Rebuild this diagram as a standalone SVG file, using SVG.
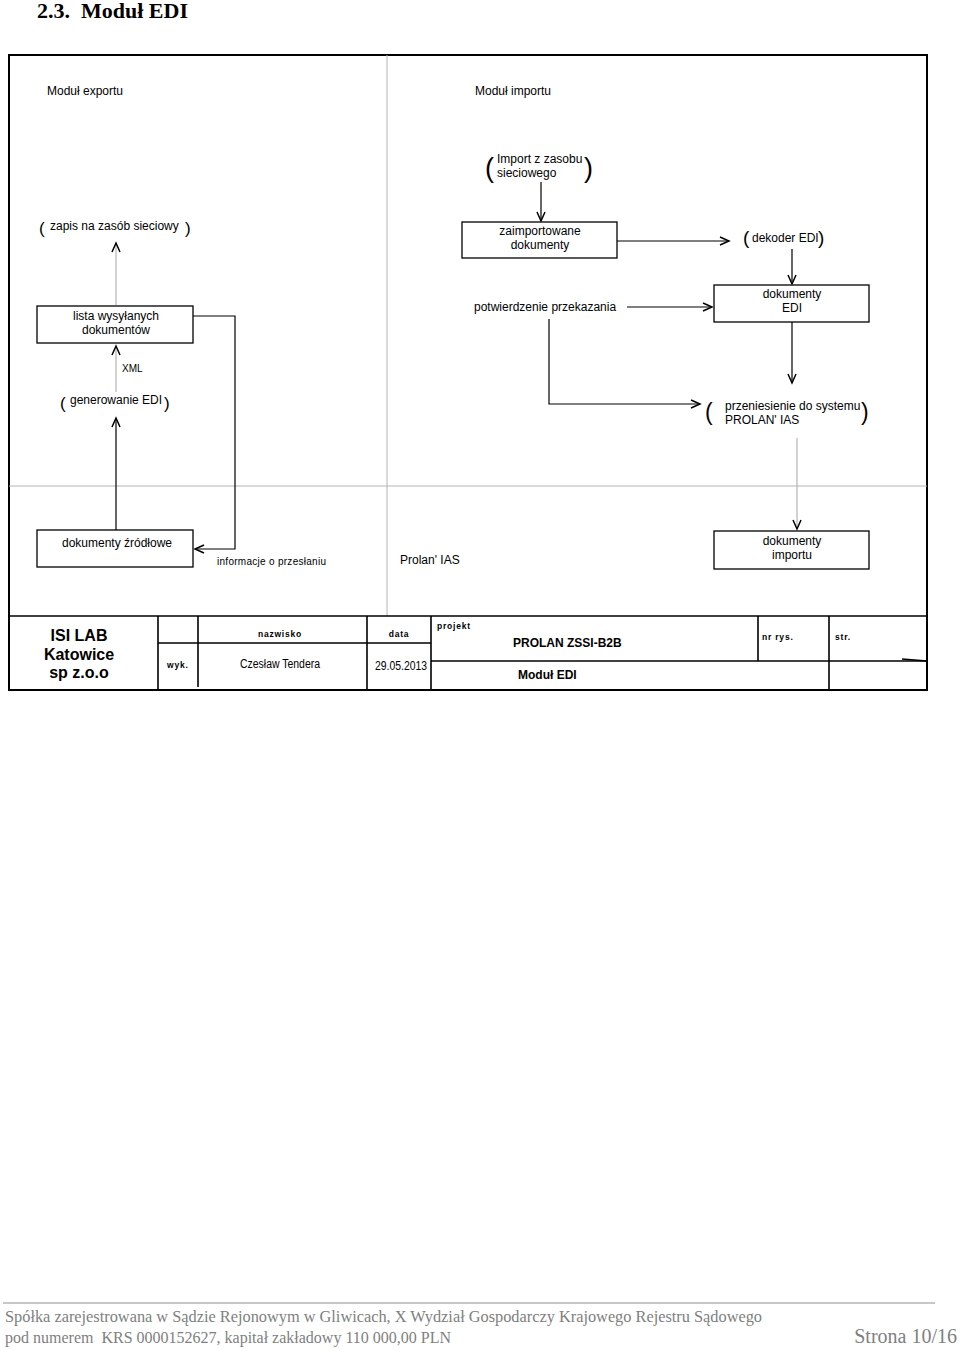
<svg xmlns="http://www.w3.org/2000/svg" width="960" height="1351" viewBox="0 0 960 1351">
<style>
.t{font-family:"Liberation Sans",Arial,sans-serif;font-size:12px;fill:#000}
.c{text-anchor:middle}
.b{font-weight:bold}
.s{font-size:8.5px;font-weight:bold;letter-spacing:0.8px}
.p{font-family:"Liberation Sans",Arial,sans-serif;fill:#000}
.box{fill:#fff;stroke:#000;stroke-width:1.3}
.ln{fill:none;stroke:#000;stroke-width:1.2}
.gl{fill:none;stroke:#b4b4b4;stroke-width:1.2}
.tb{fill:none;stroke:#000;stroke-width:1.6}
.ft{font-family:"Liberation Serif","Times New Roman",serif;fill:#808080}
</style>
<defs>
<marker id="ar" markerWidth="12" markerHeight="10" refX="10" refY="5" orient="auto" markerUnits="userSpaceOnUse">
<path d="M1,1 L10,5 L1,9" fill="none" stroke="#000" stroke-width="1.5"/>
</marker>
</defs>
<rect width="960" height="1351" fill="#fff"/>
<text x="37" y="18" style="font-family:'Liberation Serif','Times New Roman',serif;font-size:22px;font-weight:bold" xml:space="preserve">2.3.  Moduł EDI</text>

<g id="frame">
<rect x="9" y="55" width="918" height="635" fill="none" stroke="#000" stroke-width="2"/>
<line x1="387" y1="55" x2="387" y2="616" stroke="#b4b4b4" stroke-width="1"/>
<line x1="9" y1="486" x2="927" y2="486" stroke="#b4b4b4" stroke-width="1"/>
<text class="t" x="47" y="95">Moduł exportu</text>
<text class="t" x="475" y="95">Moduł importu</text>
<text class="t" x="400" y="564">Prolan' IAS</text>
</g>

<g id="connectors">
<line class="ln" x1="541" y1="182" x2="541" y2="221" marker-end="url(#ar)"/>
<line class="ln" x1="617" y1="241" x2="729" y2="241" marker-end="url(#ar)"/>
<line class="ln" x1="792" y1="249" x2="792" y2="284" marker-end="url(#ar)"/>
<line class="ln" x1="627" y1="307" x2="712" y2="307" marker-end="url(#ar)"/>
<polyline class="ln" points="549,319 549,404 700,404" marker-end="url(#ar)"/>
<line class="ln" x1="792" y1="322" x2="792" y2="383" marker-end="url(#ar)"/>
<line class="gl" x1="797" y1="438" x2="797" y2="529" marker-end="url(#ar)"/>
<line class="gl" x1="116" y1="305" x2="116" y2="243" marker-end="url(#ar)"/>
<line class="gl" x1="116" y1="392" x2="116" y2="346" marker-end="url(#ar)"/>
<line class="ln" x1="116" y1="530" x2="116" y2="418" marker-end="url(#ar)"/>
<polyline class="ln" points="193,316 235,316 235,549 195,549" marker-end="url(#ar)"/>
<text class="t" x="122" y="372" style="font-size:10px">XML</text>
<text class="t" x="217" y="565" style="font-size:10px" textLength="109" lengthAdjust="spacing">informacje o przesłaniu</text>
</g>

<g id="import-src">
<text class="p" x="485" y="176.5" style="font-size:27px">(</text>
<text class="p" x="584" y="176.5" style="font-size:27px">)</text>
<text class="t" x="497" y="163">Import z zasobu</text>
<text class="t" x="497" y="177">sieciowego</text>
</g>

<g id="zaimportowane">
<rect class="box" x="462" y="222" width="155" height="36"/>
<text class="t c" x="540" y="235">zaimportowane</text>
<text class="t c" x="540" y="249">dokumenty</text>
</g>

<g id="dekoder">
<text class="p" x="743" y="244" style="font-size:19px">(</text>
<text class="t" x="752" y="242">dekoder EDI</text>
<text class="p" x="818" y="244" style="font-size:19px">)</text>
</g>

<g id="dok-edi">
<rect class="box" x="714" y="285" width="155" height="37"/>
<text class="t c" x="792" y="298">dokumenty</text>
<text class="t c" x="792" y="312">EDI</text>
</g>

<g id="potwierdzenie">
<text class="t" x="474" y="311">potwierdzenie przekazania</text>
</g>

<g id="przeniesienie">
<text class="p" x="705" y="420" style="font-size:23px">(</text>
<text class="t" x="725" y="410">przeniesienie do systemu</text>
<text class="t" x="725" y="424">PROLAN' IAS</text>
<text class="p" x="861" y="420" style="font-size:23px">)</text>
</g>

<g id="dok-importu">
<rect class="box" x="714" y="531" width="155" height="38"/>
<text class="t c" x="792" y="545">dokumenty</text>
<text class="t c" x="792" y="559">importu</text>
</g>

<g id="zapis">
<text class="p" x="39" y="234" style="font-size:17px">(</text>
<text class="t" x="50" y="230">zapis na zasób sieciowy</text>
<text class="p" x="185" y="234" style="font-size:17px">)</text>
</g>

<g id="lista">
<rect class="box" x="37" y="306" width="156" height="37"/>
<text class="t c" x="116" y="320">lista wysyłanych</text>
<text class="t c" x="116" y="334">dokumentów</text>
</g>

<g id="generowanie">
<text class="p" x="60" y="409" style="font-size:17px">(</text>
<text class="t" x="70" y="404">generowanie EDI</text>
<text class="p" x="164" y="409" style="font-size:17px">)</text>
</g>

<g id="dok-zrodlowe">
<rect class="box" x="37" y="530" width="156" height="37"/>
<text class="t c" x="117" y="547">dokumenty źródłowe</text>
</g>

<g id="title-block">
<line class="tb" x1="9" y1="616" x2="927" y2="616"/>
<line class="tb" x1="158" y1="616" x2="158" y2="690"/>
<line class="tb" x1="198" y1="616" x2="198" y2="687"/>
<line class="tb" x1="367" y1="616" x2="367" y2="690"/>
<line class="tb" x1="431" y1="616" x2="431" y2="690"/>
<line class="tb" x1="758" y1="616" x2="758" y2="661"/>
<line class="tb" x1="829" y1="616" x2="829" y2="690"/>
<line class="tb" x1="158" y1="643" x2="431" y2="643"/>
<line class="tb" x1="431" y1="661" x2="927" y2="661"/>
<line x1="902" y1="659" x2="927" y2="661" stroke="#000" stroke-width="1.6"/>
<text class="t c b" x="79" y="641" style="font-size:16px">ISI LAB</text>
<text class="t c b" x="79" y="660" style="font-size:16px">Katowice</text>
<text class="t c b" x="79" y="678" style="font-size:16px">sp z.o.o</text>
<text class="t s" x="167" y="668">wyk.</text>
<text class="t s c" x="280" y="637">nazwisko</text>
<text class="t s c" x="399" y="637">data</text>
<text class="t c" x="280" y="668" textLength="80" lengthAdjust="spacingAndGlyphs">Czesław Tendera</text>
<text class="t c" x="401" y="670" textLength="52" lengthAdjust="spacingAndGlyphs">29.05.2013</text>
<text class="t s" x="437" y="629">projekt</text>
<text class="t b" x="513" y="647">PROLAN ZSSI-B2B</text>
<text class="t b" x="518" y="679">Moduł EDI</text>
<text class="t s" x="762" y="640">nr rys.</text>
<text class="t s" x="835" y="640">str.</text>
</g>

<g id="footer">
<line x1="3" y1="1303" x2="935" y2="1303" stroke="#b4b4b4" stroke-width="1.5"/>
<text class="ft" x="5" y="1322" style="font-size:16px" textLength="757" lengthAdjust="spacingAndGlyphs">Spółka zarejestrowana w Sądzie Rejonowym w Gliwicach, X Wydział Gospodarczy Krajowego Rejestru Sądowego</text>
<text class="ft" x="5" y="1343" style="font-size:16px" xml:space="preserve">pod numerem  KRS 0000152627, kapitał zakładowy 110 000,00 PLN</text>
<text class="ft" x="957" y="1343" style="font-size:20px" text-anchor="end">Strona 10/16</text>
</g>
</svg>
